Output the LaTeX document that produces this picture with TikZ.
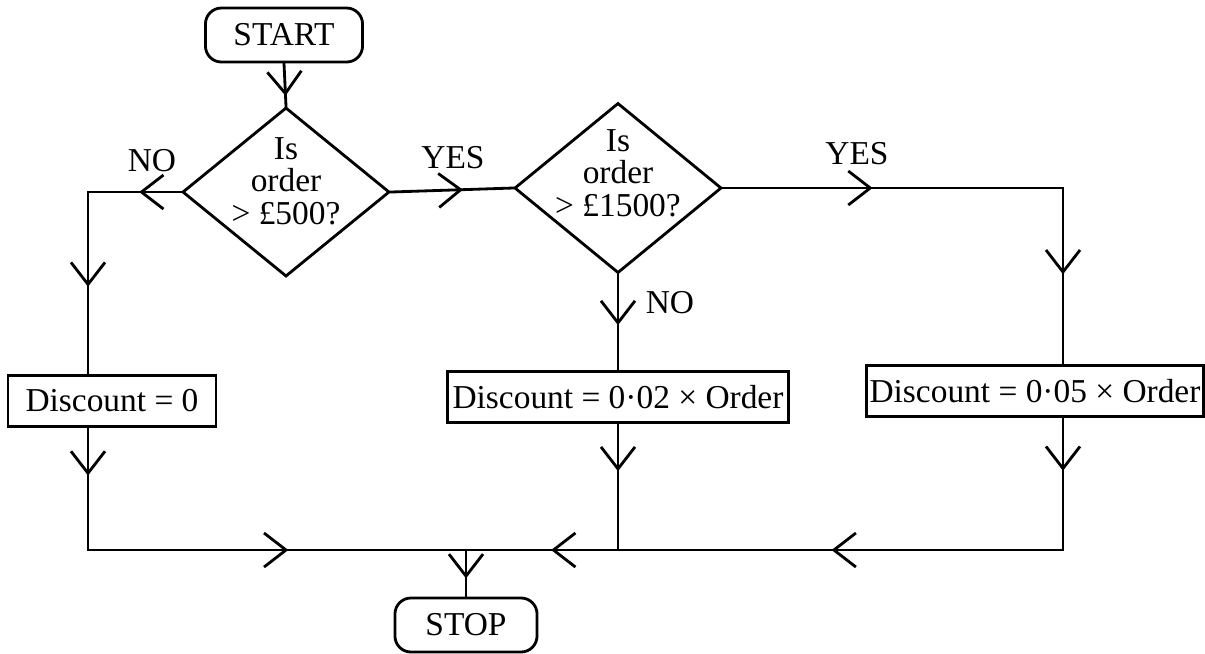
\documentclass[tikz,border=0pt]{standalone}
\usepackage{fontspec}
\setmainfont{Liberation Serif}
\usetikzlibrary{arrows.meta, decorations.markings, shapes.geometric}

\tikzset{
  midarr/.style={postaction={decorate}, decoration={markings,
      mark=at position #1 with {\arrow{Straight Barb[length=2.2mm, width=3.4mm]}}}},
  termbox/.style={draw, rounded corners=1.6mm, minimum height=5.4mm, inner sep=0pt},
  calcbox/.style={draw, minimum height=5.1mm, inner sep=0pt},
  decide/.style={draw, diamond, inner sep=0pt},
  qtext/.style={align=center, inner sep=0pt, font=\fontsize{9.5}{9.3}\selectfont}
}

\begin{document}
\begin{tikzpicture}[x=0.01cm, y=-0.01cm, line width=0.8pt, line cap=rect,
    font=\fontsize{9.5}{9.3}\selectfont]
  \useasboundingbox (0,0) rectangle (1205,653);

  % Start and stop
  \node[termbox, minimum width=15.7mm] (start) at (284,35) {START};
  \node[termbox, minimum width=14.2mm] (stop) at (466,625) {STOP};

  % Questions
  \node[decide, minimum width=20.7mm, minimum height=16.9mm] (dec1) at (286,192) {};
  \node[qtext, yshift=1.1mm] (q1) at (dec1) {Is\\order\\> £500?};
  \node[decide, minimum width=20.7mm, minimum height=17mm] (dec2) at (618,188) {};
  \node[qtext, yshift=1.5mm] (q2) at (dec2) {Is\\order\\> £1500?};

  % Discount boxes
  \node[calcbox, minimum width=20.8mm] (box1) at (112,401) {Discount = 0};
  \node[calcbox, minimum width=34.1mm] (box2) at (618,397) {Discount = 0·02 × Order};
  \node[calcbox, minimum width=33.6mm] (box3) at (1035,391) {Discount = 0·05 × Order};

  % Answers
  \node (no1) at (152,161) {NO};
  \node (yes1) at (453,158) {YES};
  \node (no2) at (670,303) {NO};
  \node (yes2) at (857,154) {YES};

  % Corners
  \coordinate (c1) at (88,192);
  \coordinate (c2) at (88,550);
  \coordinate (join) at (466,550);
  \coordinate (c3) at (618,550);
  \coordinate (c4) at (1063,188);
  \coordinate (c5) at (1063,550);

  % Flow lines
  \draw[midarr=0.76] (start.south) -- (dec1.north);
  \draw[midarr=0.45] (dec1.west) -- (c1);
  \draw[midarr=0.52] (c1) -- (c1 |- box1.north);
  \draw[midarr=0.39] (c1 |- box1.south) -- (c2);
  \draw[midarr=0.53] (c2) -- (join);
  \draw[midarr=0.59] (dec1.east) -- (dec2.west);
  \draw[midarr=0.53] (dec2.south) -- (box2.north);
  \draw[midarr=0.375] (box2.south) -- (c3);
  \draw[midarr=0.44] (c3) -- (join);
  \draw[midarr=0.44] (dec2.east) -- (c4);
  \draw[midarr=0.49] (c4) -- (c4 |- box3.north);
  \draw[midarr=0.40] (c4 |- box3.south) -- (c5);
  \draw[midarr=0.52] (c5) -- (c3);
  \draw[midarr=0.61] (join) -- (stop.north);
\end{tikzpicture}
\end{document}
